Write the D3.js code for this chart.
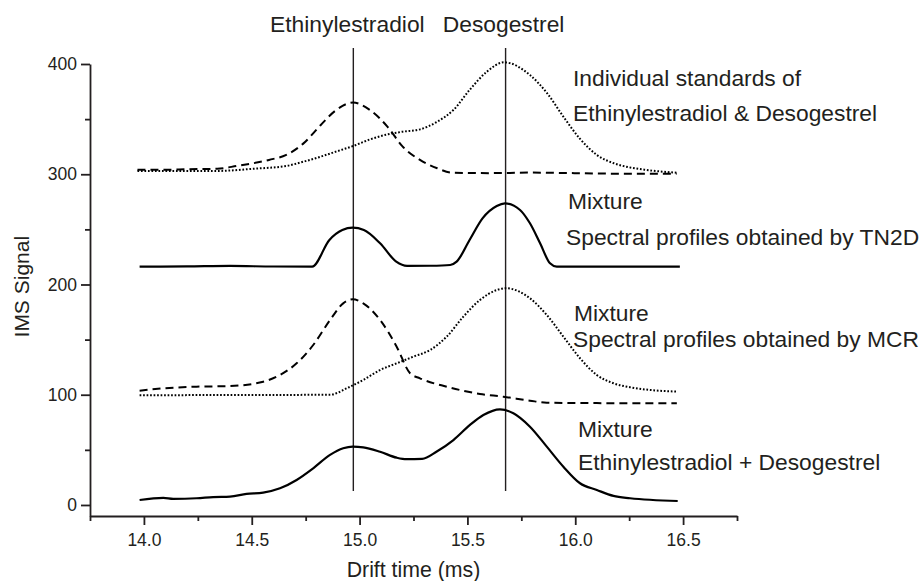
<!DOCTYPE html>
<html>
<head>
<meta charset="utf-8">
<script src="https://cdn.jsdelivr.net/npm/d3@7"></script>
<style>
  html, body { margin: 0; padding: 0; background: #fff; }
  svg { display: block; }
  text { font-family: "Liberation Sans", Arial, Helvetica, sans-serif; fill: #231f20; }
</style>
</head>
<body>
<svg id="chart" width="919" height="581"></svg>
<script>
// ---------- data (drift time in ms, IMS signal) ----------
const stdEthinyl = [[13.97,304],[14.1,304],[14.2,304.5],[14.34,305],[14.43,307.5],[14.58,313],[14.66,317.5],[14.74,328],[14.82,344.7],[14.89,358],[14.97,365],[15.05,358],[15.13,343],[15.2,325],[15.28,313],[15.36,305.4],[15.43,301.4],[15.6,301],[15.8,301.5],[16.0,301],[16.2,300.5],[16.47,300.5]];
const stdDesog = [[13.97,303],[14.2,303],[14.34,303],[14.51,305],[14.66,307.5],[14.74,311.4],[14.82,316],[14.89,320.5],[14.97,325.6],[15.05,331.7],[15.13,336.2],[15.2,338.6],[15.28,340.7],[15.36,347.7],[15.435,358.3],[15.51,376.4],[15.59,393],[15.67,401.5],[15.79,390],[15.87,373.4],[15.945,352.2],[16.02,332.6],[16.1,317.5],[16.18,309.9],[16.25,306.3],[16.33,303.9],[16.47,301.4]];
const tn2dMixture = [[13.98,216.2],[14.2,216.4],[14.4,216.8],[14.6,216.3],[14.78,216.2],[14.86,240.4],[14.92,249.4],[14.968,251.5],[15.02,249.4],[15.095,237.4],[15.17,220.7],[15.22,216.8],[15.33,217],[15.42,217.7],[15.45,220.7],[15.51,240.4],[15.57,260],[15.636,271.2],[15.674,273.6],[15.744,267.6],[15.79,255.5],[15.837,237.4],[15.883,219.2],[15.914,216.2],[16.2,216.2],[16.485,216.2]];
const mcrEthinyl = [[13.98,103.7],[14.09,105.8],[14.244,107.3],[14.4,107.9],[14.553,111.8],[14.631,117.9],[14.708,128.5],[14.785,145.1],[14.863,167.8],[14.924,182.9],[14.968,186.6],[15.017,182.9],[15.095,167.8],[15.172,143.6],[15.234,119.5],[15.28,114.9],[15.404,107.3],[15.558,100.7],[15.667,98.2],[15.79,94.6],[15.868,92.8],[16.1,92.4],[16.471,92.2]];
const mcrDesog = [[13.98,99.5],[14.3,99.7],[14.6,99.8],[14.863,100],[14.94,105.8],[15.017,113.4],[15.095,122.4],[15.172,128.5],[15.249,134.5],[15.327,140.6],[15.404,152.7],[15.481,170.8],[15.558,185.9],[15.636,195],[15.678,196.6],[15.79,187.5],[15.868,172.3],[15.945,152.7],[16.022,133.1],[16.1,117.9],[16.177,110.4],[16.254,106.8],[16.471,102.8]];
const mixture = [[13.98,4.5],[14.09,6.5],[14.136,5.6],[14.244,6.1],[14.321,7.2],[14.399,7.6],[14.476,10],[14.553,11.2],[14.631,15.1],[14.708,22.7],[14.785,33.3],[14.863,45.4],[14.924,51.4],[14.968,52.9],[15.017,52.3],[15.095,48.3],[15.172,42.9],[15.218,41.5],[15.29,41.8],[15.358,48.5],[15.435,58.9],[15.512,72.6],[15.574,81.6],[15.651,86.8],[15.713,83.2],[15.79,71],[15.868,52.9],[15.945,34.7],[16.022,19.7],[16.1,13.6],[16.177,8.2],[16.254,6.1],[16.475,3.6]];

const markerTimes = [14.971, 15.677];
const markerNames = ["Ethinylestradiol", "Desogestrel"];
const markerSpan = [12.7, 414.5];

const xMajorTicks = [14.0, 14.5, 15.0, 15.5, 16.0, 16.5];
const xMinorTicks = [13.75, 14.25, 14.75, 15.25, 15.75, 16.25, 16.75];
const yMajorTicks = [0, 100, 200, 300, 400];
const yMinorTicks = [50, 150, 250, 350];

const annotations = [
  "Individual standards of",
  "Ethinylestradiol & Desogestrel",
  "Mixture",
  "Spectral profiles obtained by TN2D",
  "Mixture",
  "Spectral profiles obtained by MCR",
  "Mixture",
  "Ethinylestradiol + Desogestrel"
];

// ---------- layout ----------
const annoPos = [[573,86],[573,121],[568,209],[566,245],[574,321],[573,347],[578,437],[578,470]];

const svg = d3.select("#chart");
const x = d3.scaleLinear().domain([13.75, 16.75]).range([90, 737]);
const y = d3.scaleLinear().domain([-10, 400]).range([516, 64]);

const axisColor = "#231f20";

// axes
const gx = svg.append("g").attr("transform", `translate(0,${y(-10)})`);
gx.call(d3.axisBottom(x).tickValues(xMajorTicks).tickFormat(d3.format(".1f")).tickSize(9).tickSizeOuter(0).tickPadding(9));
const gxm = svg.append("g").attr("transform", `translate(0,${y(-10)})`);
gxm.call(d3.axisBottom(x).tickValues(xMinorTicks).tickFormat("").tickSize(5).tickSizeOuter(0));
gxm.select(".domain").remove();

const gy = svg.append("g").attr("transform", `translate(${x(13.75)},0)`);
gy.call(d3.axisLeft(y).tickValues(yMajorTicks).tickSize(9).tickSizeOuter(0).tickPadding(4));
const gym = svg.append("g").attr("transform", `translate(${x(13.75)},0)`);
gym.call(d3.axisLeft(y).tickValues(yMinorTicks).tickFormat("").tickSize(5).tickSizeOuter(0));
gym.select(".domain").remove();

svg.selectAll(".domain, .tick line").attr("stroke", axisColor).attr("stroke-width", 1.8);
svg.selectAll("g").attr("font-size", null).attr("font-family", null);
svg.selectAll(".tick text")
   .style("font-size", "17.5px")
   .style("fill", axisColor)
   .style("font-family", '"Liberation Sans", Arial, sans-serif');

// axis titles
svg.append("text").attr("x", x(15.25)).attr("y", 577).attr("text-anchor", "middle")
   .style("font-size", "21.3px").text("Drift time (ms)");
svg.append("text").attr("transform", `translate(29,${y(198)}) rotate(-90)`).attr("text-anchor", "middle")
   .style("font-size", "21px").text("IMS Signal");

// marker lines
svg.selectAll("line.marker").data(markerTimes).enter().append("line")
   .attr("class", "marker")
   .attr("x1", d => x(d)).attr("x2", d => x(d))
   .attr("y1", y(markerSpan[1])).attr("y2", y(markerSpan[0]))
   .attr("stroke", "#231f20").attr("stroke-width", 1.4);

svg.append("text").attr("x", x(markerTimes[0]) - 6).attr("y", 32).attr("text-anchor", "middle")
   .style("font-size", "22.8px").text(markerNames[0]);
svg.append("text").attr("x", x(markerTimes[1]) - 2).attr("y", 32).attr("text-anchor", "middle")
   .style("font-size", "22.8px").text(markerNames[1]);

// curves
const line = d3.line().x(d => x(d[0])).y(d => y(d[1])).curve(d3.curveMonotoneX);
const series = [
  {data: stdEthinyl, dash: "8,5", w: 2},
  {data: stdDesog, dash: "1.7,1.8", w: 2},
  {data: tn2dMixture, dash: null, w: 2.2},
  {data: mcrEthinyl, dash: "8,5", w: 2},
  {data: mcrDesog, dash: "1.7,1.8", w: 2},
  {data: mixture, dash: null, w: 2.2}
];
series.forEach(s => {
  svg.append("path").datum(s.data)
    .attr("d", line)
    .attr("fill", "none")
    .attr("stroke", "#000")
    .attr("stroke-width", s.w)
    .attr("stroke-dasharray", s.dash)
    .attr("stroke-linejoin", "round");
});

// annotations
svg.selectAll("text.anno").data(annotations).enter().append("text")
   .attr("class", "anno")
   .attr("x", (d, i) => annoPos[i][0])
   .attr("y", (d, i) => annoPos[i][1])
   .style("font-size", "22.8px")
   .text(d => d);
</script>
</body>
</html>
